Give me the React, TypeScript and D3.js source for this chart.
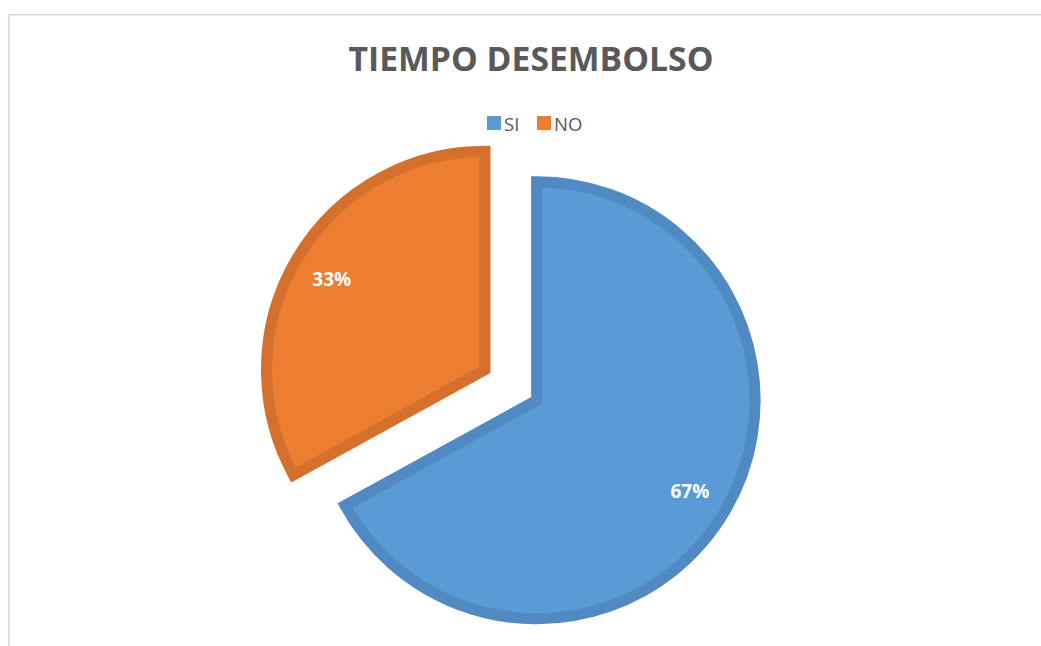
import React from "react";
import * as d3 from "d3";

const categories = ["SI", "NO"];
const values = [67, 33];
const fills = ["#5B9BD5", "#ED7D31"];
const strokes = ["#5189C3", "#D4702B"];
const title = "TIEMPO DESEMBOLSO";

const W = 1041;
const H = 646;

export default function App() {
  const cx = 510.8;
  const cy = 385;
  const R = 218.5;
  const explode = 30;
  const labelR = 178;

  const pie = d3.pie<number>().sort(null).value((d) => d)(values);
  const arc = d3.arc<d3.PieArcDatum<number>>().innerRadius(0).outerRadius(R);
  const labelArc = d3
    .arc<d3.PieArcDatum<number>>()
    .innerRadius(labelR)
    .outerRadius(labelR);
  const total = d3.sum(values);
  const fmt = d3.format(".0%");

  const font = "'Open Sans', 'Noto Sans', sans-serif";

  return (
    <svg
      width={W}
      height={H}
      style={{ position: "absolute", left: 0, top: 0, background: "#fff" }}
    >
      <path
        d={`M${W + 2},14.75 H8.75 V${H + 2}`}
        fill="none"
        stroke="#d9d9d9"
        strokeWidth={1.6}
      />
      <text
        x={531}
        y={71}
        textAnchor="middle"
        fontFamily={font}
        fontWeight={700}
        fontSize={34}
        fill="#595959"
        textLength={365}
        lengthAdjust="spacingAndGlyphs"
      >
        {title}
      </text>
      {/* legend */}
      {categories.map((c, i) => {
        const x0 = i === 0 ? 487 : 537;
        return (
          <g key={c}>
            <rect x={x0} y={116} width={14} height={14} fill={fills[i]} />
            <text
              x={x0 + 17}
              y={130.5}
              fontFamily={font}
              fontSize={18.5}
              fill="#595959"
            >
              {c}
            </text>
          </g>
        );
      })}
      {pie.map((p, i) => {
        const mid = (p.startAngle + p.endAngle) / 2;
        const dx = Math.sin(mid) * explode;
        const dy = -Math.cos(mid) * explode;
        const [lx, ly] = labelArc.centroid(p);
        return (
          <g key={categories[i]} transform={`translate(${cx + dx},${cy + dy})`}>
            <path
              d={arc(p) || ""}
              fill={fills[i]}
              stroke={strokes[i]}
              strokeWidth={11}
              strokeLinejoin="miter"
              strokeMiterlimit={10}
            />
            <text
              x={lx}
              y={ly}
              dy="0.36em"
              textAnchor="middle"
              fontFamily={font}
              fontWeight={700}
              fontSize={19}
              fill="#ffffff"
            >
              {fmt(p.value / total)}
            </text>
          </g>
        );
      })}
    </svg>
  );
}
